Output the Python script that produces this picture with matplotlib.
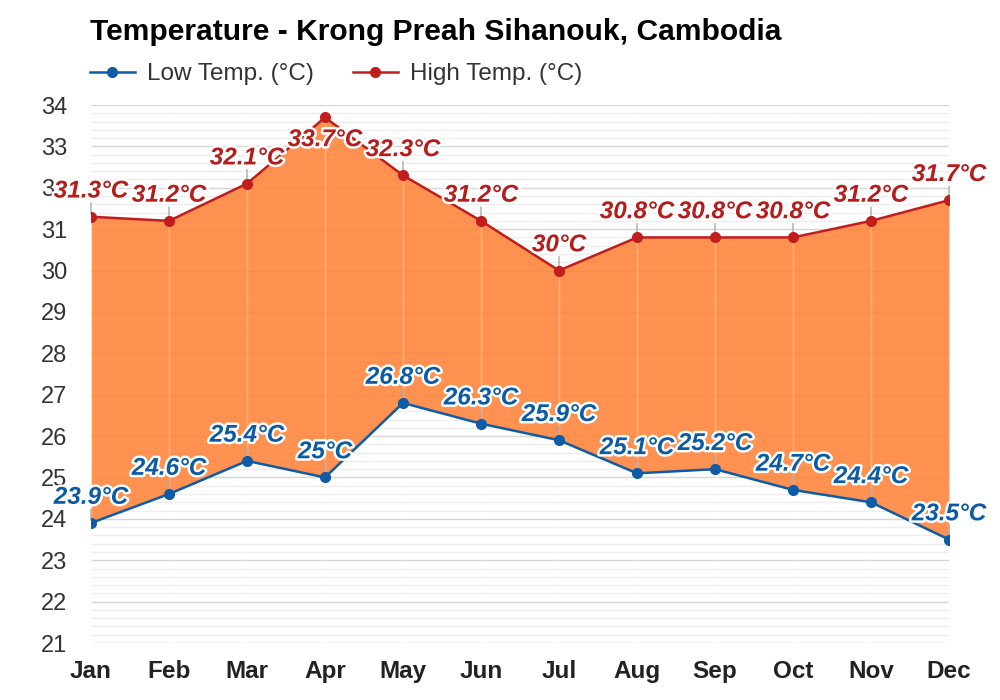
import matplotlib
matplotlib.use("Agg")
import matplotlib.pyplot as plt
import matplotlib.patheffects as pe
from matplotlib.lines import Line2D
import numpy as np

months = ["Jan", "Feb", "Mar", "Apr", "May", "Jun", "Jul", "Aug", "Sep", "Oct", "Nov", "Dec"]
high_temp = [31.3, 31.2, 32.1, 33.7, 32.3, 31.2, 30.0, 30.8, 30.8, 30.8, 31.2, 31.7]
low_temp = [23.9, 24.6, 25.4, 25.0, 26.8, 26.3, 25.9, 25.1, 25.2, 24.7, 24.4, 23.5]
y_ticks = list(range(21, 35))

plt.rcParams['font.family'] = ['Liberation Sans', 'DejaVu Sans']

HIGH_C = "#c21d1d"
LOW_C = "#0e5ba6"
HIGH_LBL = "#b51c1c"
LOW_LBL = "#0b5aa6"
FILL_C = "#ff7f33"

fig = plt.figure(figsize=(10, 7), dpi=100)
ax = fig.add_axes([0.091, 57/700, 0.858, 538/700])
x = np.arange(len(months))

ax.set_xlim(0, len(months) - 1)
ax.set_ylim(21, 34)

# grid
for v in np.arange(21, 34.01, 0.2):
    major = abs(v - round(v)) < 1e-6
    ax.axhline(v, color="#d6d6d6" if major else "#ededed", lw=1.0, zorder=0)

ax.fill_between(x, low_temp, high_temp, color=FILL_C, alpha=0.85, lw=0, zorder=1)
for xi in x:
    ax.axvline(xi, color="white", alpha=0.35, lw=1.0, zorder=1.5)

ax.plot(x, high_temp, color=HIGH_C, lw=1.8, marker="o", ms=7, zorder=3)
ax.plot(x, low_temp, color=LOW_C, lw=1.8, marker="o", ms=7, zorder=3)

def fmt(v):
    s = f"{v:.1f}"
    if s.endswith(".0"):
        s = s[:-2]
    return s + "°C"

ymax = ax.get_ylim()[1]
stroke = [pe.withStroke(linewidth=3.5, foreground="white")]
for vals, col in ((high_temp, HIGH_LBL), (low_temp, LOW_LBL)):
    for xi, v in zip(x, vals):
        # labels that would leave the plot area are flipped just below the point
        dy = 18.5 if v < ymax - 0.5 else -16
        if dy > 0:
            ax.annotate("", xy=(xi, v), xytext=(0, 12), textcoords="offset points",
                        arrowprops=dict(arrowstyle="-", color="#aaaaaa", lw=1), zorder=2.5)
        ax.annotate(fmt(v), xy=(xi, v), xytext=(0, dy), textcoords="offset points",
                    ha="center", va="center", fontsize=17.5, fontweight="bold", fontstyle="italic",
                    color=col, path_effects=stroke, zorder=5, annotation_clip=False)

ax.set_xticks(x)
ax.set_xticklabels(months, fontsize=17.5, fontweight="bold", color="#222222")
ax.set_yticks(y_ticks)
ax.set_yticklabels([str(t) for t in y_ticks], fontsize=17, color="#333333")
ax.tick_params(axis="x", length=0, pad=12)
ax.tick_params(axis="y", length=0, pad=17)
for s in ax.spines.values():
    s.set_visible(False)

fig.text(0.09, 1 - 32/700, "Temperature - Krong Preah Sihanouk, Cambodia",
         fontsize=21.6, fontweight="bold", color="#000000", va="center", ha="left")

handles = [Line2D([], [], color=LOW_C, lw=1.8, marker="o", ms=7),
           Line2D([], [], color=HIGH_C, lw=1.8, marker="o", ms=7)]
fig.legend(handles, ["Low Temp. (°C)", "High Temp. (°C)"], loc="center left",
           bbox_to_anchor=(0.09, 1 - 74/700), ncol=2, frameon=False, fontsize=17.5,
           handlelength=1.85, handletextpad=0.5, columnspacing=1.6, labelcolor="#333333",
           borderpad=0, borderaxespad=0)

fig.savefig("out.png", dpi=100, facecolor="white")
